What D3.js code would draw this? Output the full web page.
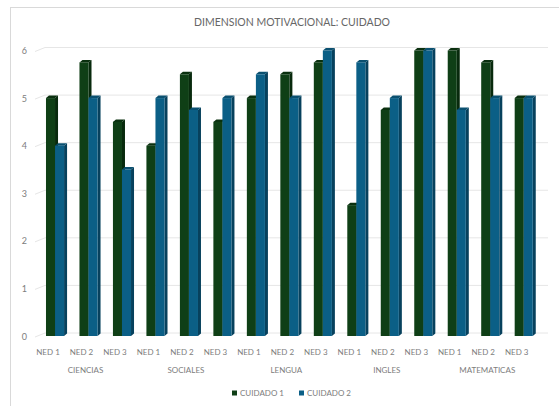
<!DOCTYPE html>
<html>
<head>
<meta charset="utf-8">
<script src="https://cdn.jsdelivr.net/npm/d3@7"></script>
<style>
  body { margin: 0; background: #fff; }
  text { font-family: Lato, "Open Sans", sans-serif; fill: #7d7d7d; }
</style>
</head>
<body>
<div id="chart"></div>
<script>
const subjects = ['CIENCIAS', 'SOCIALES', 'LENGUA', 'INGLES', 'MATEMATICAS'];
const levels = ['NED 1', 'NED 2', 'NED 3'];
const seriesNames = ['CUIDADO 1', 'CUIDADO 2'];
const cuidado1 = [5, 5.75, 4.5, 4, 5.5, 4.5, 5, 5.5, 5.75, 2.75, 4.75, 6, 6, 5.75, 5];
const cuidado2 = [4, 5, 3.5, 5, 4.75, 5, 5.5, 5, 6, 5.75, 5, 6, 4.75, 5, 5];
const yTicks = [0, 1, 2, 3, 4, 5, 6];

const colors = {
    'CUIDADO 1': {front: '#0f3f16', side: '#082a0d', top: '#0a300f'},
    'CUIDADO 2': {front: '#0b5f86', side: '#07415d', top: '#0a5070'}
};

const chartWidth = 559;
const chartHeight = 406;
const depthX = 3;
const depthY = -2.5;

const cats = [];
subjects.forEach((s, si) => levels.forEach((l, li) => cats.push({id: si * 3 + li, subject: s, level: l})));
const values = [cuidado1, cuidado2];

const xScale = d3.scaleBand()
    .domain(cats.map(d => d.id))
    .range([29.25, 549.5])
    .paddingInner(0.46)
    .paddingOuter(0.5);

const xSub = d3.scaleBand()
    .domain(seriesNames)
    .range([0, xScale.bandwidth()]);

const yScale = d3.scaleLinear()
    .domain([0, 6])
    .range([336, 50.5]);

const svg = d3.select('#chart')
    .append('svg')
    .attr('width', chartWidth)
    .attr('height', chartHeight);

// frame
svg.append('rect')
    .attr('x', 10.5).attr('y', 7.5)
    .attr('width', 600).attr('height', 500)
    .attr('fill', 'none')
    .attr('stroke', '#d9d9d9');

svg.append('text')
    .attr('x', 292).attr('y', 26)
    .attr('text-anchor', 'middle')
    .style('font-size', '10.5px')
    .style('fill', '#666')
    .text('DIMENSION MOTIVACIONAL: CUIDADO');

// back wall gridlines with 3d floor diagonal
const grid = svg.append('g');
yTicks.forEach(t => {
    const y = yScale(t);
    grid.append('path')
        .attr('d', `M35,${y + 1}L45,${y - 3}L548,${y - 3}`)
        .attr('fill', 'none')
        .attr('stroke', '#e6e6e6')
        .attr('stroke-width', 1);
    grid.append('text')
        .attr('x', 27).attr('y', y + 3.5)
        .attr('text-anchor', 'end')
        .style('font-size', '9px')
        .text(t);
});

// bars
const bars = svg.append('g');
cats.forEach(c => {
    seriesNames.forEach((s, k) => {
        const v = values[k][c.id];
        const x = xScale(c.id) + xSub(s);
        const w = xSub.bandwidth();
        const y0 = yScale(0);
        const y1 = yScale(v);
        const col = colors[s];
        bars.append('path')
            .attr('d', `M${x + w},${y1}L${x + w + depthX},${y1 + depthY}L${x + w + depthX},${y0 + depthY}L${x + w},${y0}Z`)
            .attr('fill', col.side);
        bars.append('path')
            .attr('d', `M${x},${y1}L${x + depthX},${y1 + depthY}L${x + w + depthX},${y1 + depthY}L${x + w},${y1}Z`)
            .attr('fill', col.top);
        bars.append('rect')
            .attr('x', x).attr('y', y1)
            .attr('width', w).attr('height', y0 - y1)
            .attr('fill', col.front);
    });
});

// category labels
svg.append('g').selectAll('text')
    .data(cats)
    .enter()
    .append('text')
    .attr('x', d => xScale(d.id) + xScale.bandwidth() / 2 - 7)
    .attr('y', 355)
    .attr('text-anchor', 'middle')
    .style('font-size', '8px')
    .text(d => d.level);

svg.append('g').selectAll('text')
    .data(subjects)
    .enter()
    .append('text')
    .attr('x', (d, i) => xScale(i * 3 + 1) + xScale.bandwidth() / 2 - 3)
    .attr('y', 373)
    .attr('text-anchor', 'middle')
    .style('font-size', '8px')
    .text(d => d);

// legend
const legendX = [232, 299];
const legend = svg.append('g');
seriesNames.forEach((s, k) => {
    legend.append('rect')
        .attr('x', legendX[k]).attr('y', 390.5)
        .attr('width', 5).attr('height', 5)
        .attr('fill', colors[s].front);
    legend.append('text')
        .attr('x', legendX[k] + 8).attr('y', 396)
        .style('font-size', '8px')
        .text(s);
});
</script>
</body>
</html>
